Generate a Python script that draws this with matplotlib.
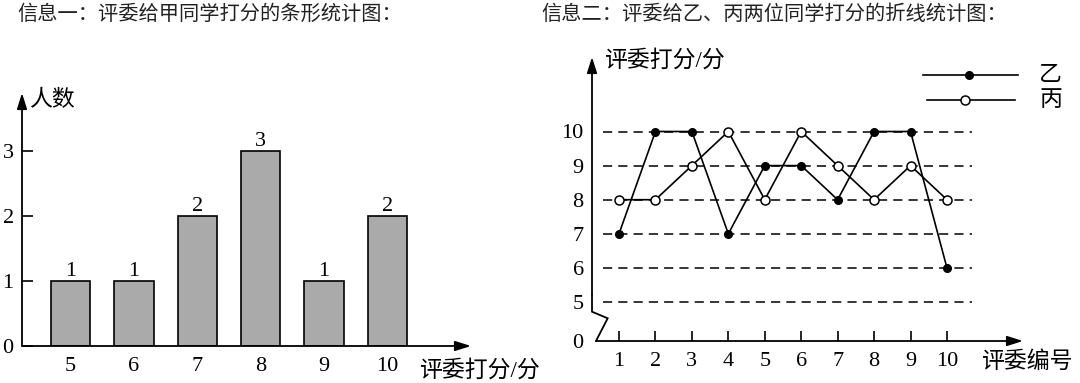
import matplotlib.pyplot as plt

plt.rcParams['font.family'] = ['Liberation Serif', 'Noto Sans CJK SC']

W, H = 1080, 383

# 信息一：甲同学条形统计图
scores = ['5', '6', '7', '8', '9', '10']
counts = [1, 1, 2, 3, 1, 2]

# 信息二：乙、丙折线统计图
judges = [1, 2, 3, 4, 5, 6, 7, 8, 9, 10]
yi = [7, 10, 10, 7, 9, 9, 8, 10, 10, 6]
bing = [8, 8, 9, 10, 8, 10, 9, 8, 9, 8]
grid_levels = [5, 6, 7, 8, 9, 10]

NUM = 16  # size of the digits


def fx(px):
    return px / W


def fy(py):
    return 1 - py / H


def arrow(ax, start, end):
    ax.annotate('', xy=end, xytext=start, annotation_clip=False,
                arrowprops=dict(arrowstyle='-|>,head_length=0.95,head_width=0.3',
                                color='black', lw=1.3, mutation_scale=10,
                                shrinkA=0, shrinkB=0))


fig = plt.figure(figsize=(W / 100, H / 100), dpi=100)

# ---- left: bar chart ----
ax1 = fig.add_axes([fx(22), fy(346), (471 - 22) / W, (346 - 93) / H])
x0, x1 = (22 - 70.5) / 63.4, (471 - 70.5) / 63.4
ytop = (346 - 93) / 65
ax1.set_xlim(x0, x1)
ax1.set_ylim(0, ytop)
for s in ax1.spines.values():
    s.set_visible(False)
ax1.bar(range(len(scores)), counts, width=0.62, color='#aaaaaa',
        edgecolor='black', linewidth=1.2, zorder=2)
for i, v in enumerate(counts):
    ax1.text(i, v, str(v), ha='center', va='bottom', fontsize=NUM)
ax1.set_xticks(range(len(scores)))
ax1.set_xticklabels(scores)
ax1.set_yticks([0, 1, 2, 3])
ax1.tick_params(axis='x', length=0, pad=8, labelsize=NUM)
ax1.tick_params(axis='y', direction='in', length=8, width=1.2, pad=6, labelsize=NUM)
arrow(ax1, (x0, 0), (x1, 0))
arrow(ax1, (x0, 0), (x0, ytop))

fig.text(fx(17), fy(15), '信息一：评委给甲同学打分的条形统计图：', fontsize=14.6,
         va='center', ha='left', color='#222222')
fig.text(fx(29), fy(101), '人数', fontsize=16.5, va='center', ha='left')
fig.text(fx(419), fy(371), '评委打分/分', fontsize=16.5, va='center', ha='left')

# ---- right: line chart ----
ax2 = fig.add_axes([fx(592), fy(341), (1023 - 592) / W, (341 - 57) / H])
bx0 = 1 + (592 - 619) / 36.44
bx1 = 1 + (1023 - 619) / 36.44
by0 = 5 - (341 - 302) / 34.1
by1 = 5 + (302 - 57) / 34.1
ax2.set_xlim(bx0, bx1)
ax2.set_ylim(by0, by1)
for s in ax2.spines.values():
    s.set_visible(False)

ax2.hlines(grid_levels, 1 + (603 - 619) / 36.44, 1 + (972 - 619) / 36.44,
           colors='black', linewidth=1.1, linestyles=(0, (6, 4)), zorder=1)
ax2.plot(judges, yi, color='black', lw=1.2, marker='o', markersize=5.5,
         markerfacecolor='black', markeredgecolor='black', zorder=3, clip_on=False)
ax2.plot(judges, bing, color='black', lw=1.2, marker='o', markersize=6.5,
         markerfacecolor='white', markeredgecolor='black', markeredgewidth=1.1,
         zorder=3, clip_on=False)

# axis with break mark
yb1 = 5 - (311.7 - 302) / 34.1
yb2 = 5 - (318.3 - 302) / 34.1
ax2.plot([bx0, bx0, bx0 + 0.43, bx0 + 0.11], [yb1 + 0.5, yb1, yb2, by0],
         color='black', lw=1.3, clip_on=False, solid_joinstyle='miter')
arrow(ax2, (bx0, yb1 + 0.5), (bx0, by1))
arrow(ax2, (bx0 + 0.11, by0), (bx1, by0))

ax2.set_xticks(judges)
ax2.set_yticks([by0] + grid_levels)
ax2.set_yticklabels(['0'] + [str(v) for v in grid_levels])
ax2.tick_params(axis='x', direction='in', length=7, width=1.2, pad=8, labelsize=NUM)
ax2.tick_params(axis='y', length=0, pad=6, labelsize=NUM)

# legend
ly1 = 5 + (302 - 75) / 34.1
ly2 = 5 + (302 - 100) / 34.1
ax2.plot([9.343, 11.95], [ly1, ly1], color='black', lw=1.2, clip_on=False)
ax2.plot([10.605], [ly1], 'o', color='black', markersize=5.5, clip_on=False)
ax2.plot([9.452, 11.867], [ly2, ly2], color='black', lw=1.2, clip_on=False)
ax2.plot([10.495], [ly2], 'o', markerfacecolor='white', markeredgecolor='black',
         markeredgewidth=1.1, markersize=6.5, clip_on=False)
fig.text(fx(1039), fy(75), '乙', fontsize=16.5, va='center', ha='left')
fig.text(fx(1039), fy(101), '丙', fontsize=16.5, va='center', ha='left')

fig.text(fx(541), fy(15), '信息二：评委给乙、丙两位同学打分的折线统计图：', fontsize=14.6,
         va='center', ha='left', color='#222222')
fig.text(fx(604), fy(61), '评委打分/分', fontsize=16.5, va='center', ha='left')
fig.text(fx(981), fy(362), '评委编号', fontsize=16.5, va='center', ha='left')

fig.savefig('out.png', dpi=100)
